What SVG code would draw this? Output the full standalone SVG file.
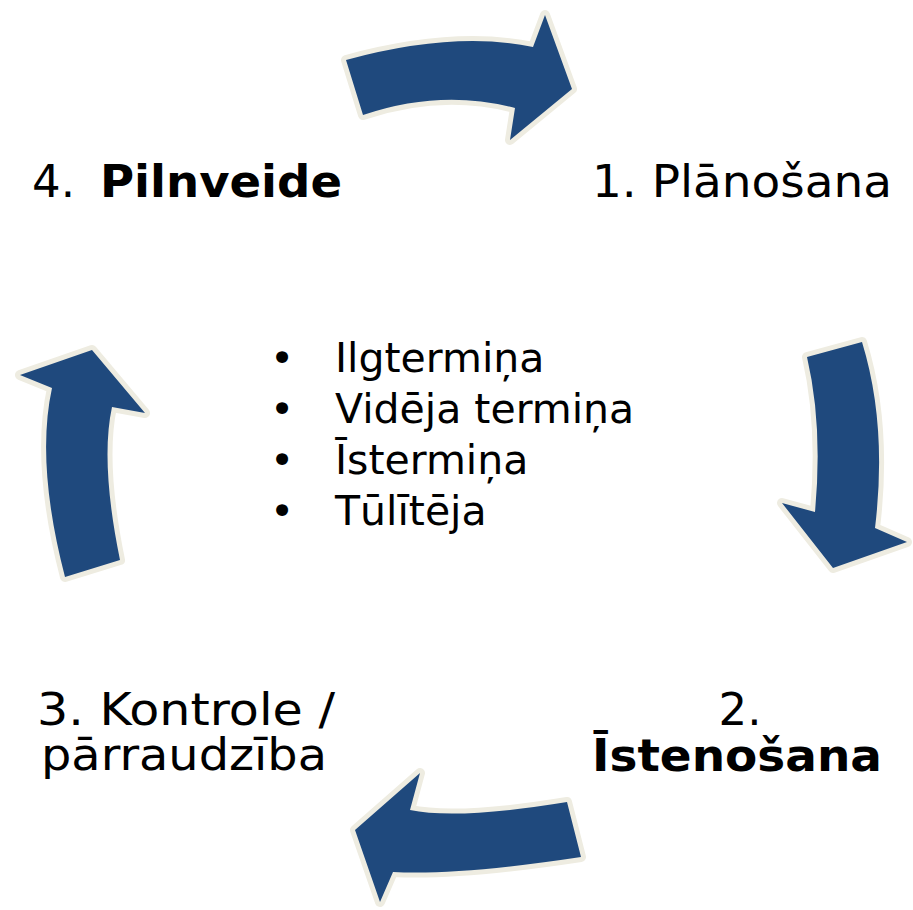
<svg xmlns="http://www.w3.org/2000/svg" width="913" height="910" viewBox="0 0 913 910">
<style>
.arr{fill:#1F497D;stroke:#EEECE1;stroke-width:10;stroke-linejoin:round;paint-order:stroke}
.t{font-family:"DejaVu Sans","Liberation Sans",sans-serif;fill:#000}
.big{font-size:45px}
.b{font-weight:bold}
.sm{font-size:41px}
</style>
<rect width="913" height="910" fill="#fff"/>
<g id="connectors">
<path id="arrow-top" class="arr" d="M346 60 Q454.5 30.5 533 47 L545 15 L572 89 L510 140 L515 108 Q441 88.5 363 115 Z"/>
<path id="arrow-right" class="arr" d="M807 357 L862 342 Q887.5 425 875 528 L907 542 L833 568 L782 503 L815 512 Q823 425.5 807 357 Z"/>
<path id="arrow-bottom" class="arr" d="M567 802 L581 857 Q459 875.5 393 872 L380 902 L355 830 L420 773 L410 810 Q457.5 820 567 802 Z"/>
<path id="arrow-left" class="arr" d="M65 577 L120 560 Q100 462.5 112 407 L145 413 L92 350 L20 375 L52 388 Q35.5 463.5 65 577 Z"/>
</g>
<g id="node-1">
<text class="t big" x="592" y="197" textLength="300" lengthAdjust="spacingAndGlyphs">1. Plānošana</text>
</g>
<g id="node-2">
<text class="t big" x="740" y="725" text-anchor="middle">2.</text>
<text class="t big b" x="592" y="771" textLength="290" lengthAdjust="spacingAndGlyphs">Īstenošana</text>
</g>
<g id="node-3">
<text class="t big" x="37" y="725" textLength="298" lengthAdjust="spacingAndGlyphs">3. Kontrole /</text>
<text class="t big" x="41" y="770" textLength="286" lengthAdjust="spacingAndGlyphs">pārraudzība</text>
</g>
<g id="node-4">
<text class="t big" x="32" y="197">4.</text>
<text class="t big b" x="100" y="197" textLength="242" lengthAdjust="spacingAndGlyphs">Pilnveide</text>
</g>
<g id="center-list">
<text class="t sm" x="270" y="372">•</text>
<text class="t sm" x="335" y="372">Ilgtermiņa</text>
<text class="t sm" x="270" y="423">•</text>
<text class="t sm" x="335" y="423">Vidēja termiņa</text>
<text class="t sm" x="270" y="474">•</text>
<text class="t sm" x="335" y="474">Īstermiņa</text>
<text class="t sm" x="270" y="525">•</text>
<text class="t sm" x="335" y="525">Tūlītēja</text>
</g>
</svg>
